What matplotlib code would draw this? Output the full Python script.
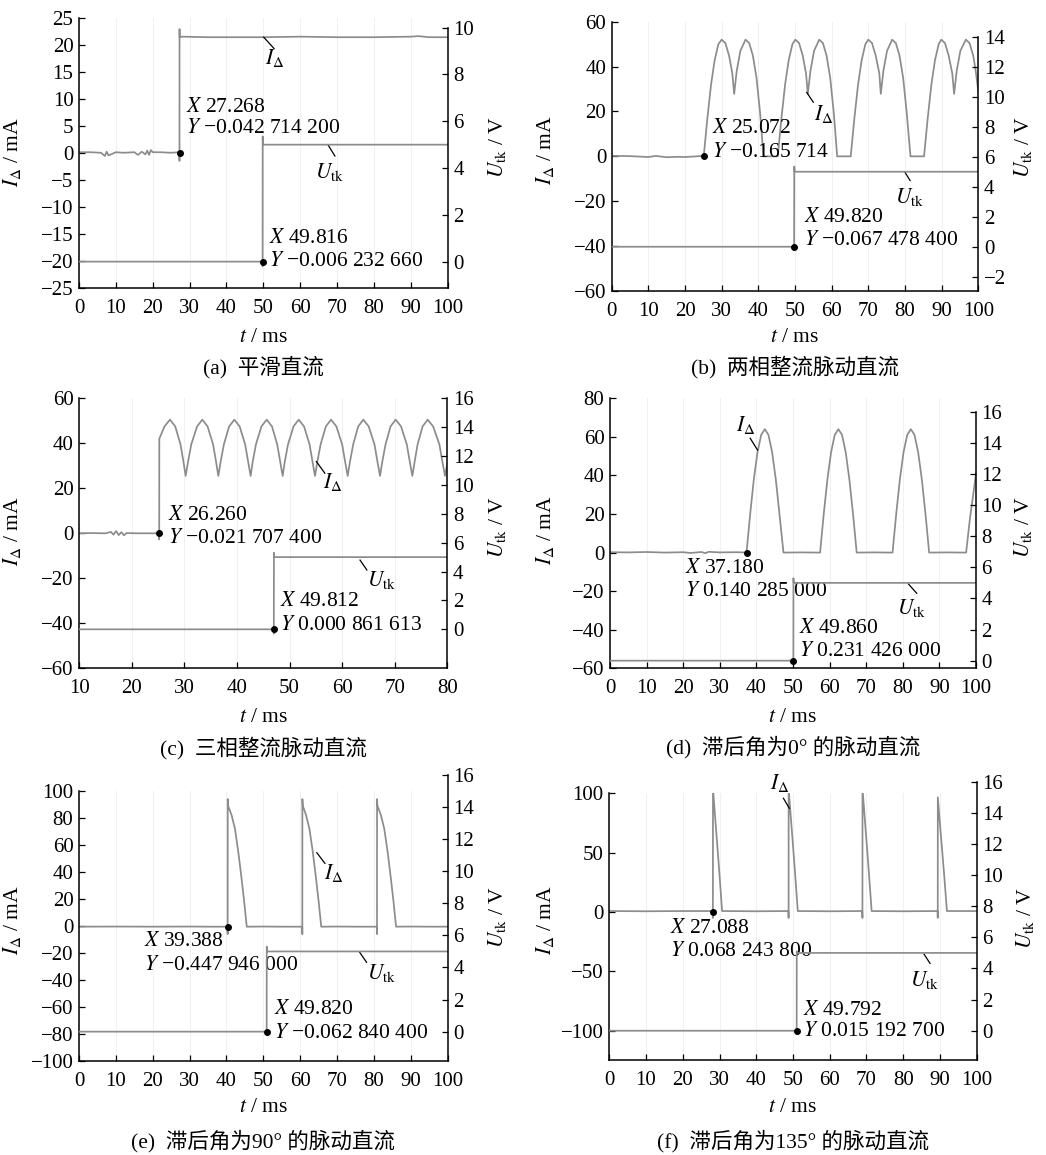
import matplotlib
matplotlib.use('Agg')
import matplotlib.pyplot as plt

plt.rcParams['font.family'] = ['Liberation Serif', 'Noto Sans CJK SC', 'DejaVu Sans']
plt.rcParams['mathtext.fontset'] = 'stix'
plt.rcParams['axes.unicode_minus'] = True

# ---------------- data ----------------
# (a) smooth DC
a_t_I = [0, 3, 6, 7, 7.5, 8, 10, 12, 15, 16, 17, 18, 18.5, 19, 19.5, 20, 22, 25, 27.2, 27.25, 27.27,
         27.3, 28, 35, 50, 60, 70, 80, 90, 92, 95, 100]
a_I = [0.2, 0.2, 0.1, -0.5, 0.3, -0.4, 0.2, 0.1, 0.2, -0.3, 0.3, -0.2, 0.5, -0.3, 0.6, 0.2, 0.2, 0.1,
       0.2, -1.4, 23.0, 21.5, 21.6, 21.5, 21.5, 21.6, 21.5, 21.5, 21.6, 21.7, 21.5, 21.5]
a_t_U = [0, 20, 40, 49.78, 49.8, 49.82, 49.9, 60, 80, 100]
a_U = [0, 0, 0, 0, -0.2, 5.35, 5.0, 5.0, 5.0, 5.0]

# (b) two-phase rectified pulsating DC
b_t_I = [0, 5, 10, 12, 15, 18, 20, 24,
         25.1, 26.1, 27.1, 28.1, 29.1, 30.0, 31.0, 32.0, 32.9, 33.4, 34.1, 35.1, 36.5, 37.5, 38.5, 39.5, 40.5, 41.4,
         45.3, 46.3, 47.3, 48.3, 49.3, 50.1, 51.1, 52.1, 53.0, 53.5, 54.2, 55.2, 56.6, 57.6, 58.6, 59.6, 60.6, 61.5,
         65.2, 66.2, 67.2, 68.2, 69.2, 70.0, 71.0, 72.0, 73.0, 73.4, 74.1, 75.1, 76.5, 77.5, 78.5, 79.5, 80.5, 81.5,
         85.2, 86.2, 87.2, 88.2, 89.2, 89.9, 90.9, 91.9, 92.9, 93.4, 94.1, 95.1, 96.6, 97.6, 98.6, 99.3, 100]
b_I = [0.2, 0.1, -0.3, 0.2, -0.4, -0.2, -0.3, 0.1,
       0, 17, 32, 43, 50, 52, 50.5, 45, 37, 27.8, 38, 47, 52, 50.5, 45, 35, 19, 0,
       0, 17, 32, 43, 50, 52, 50.5, 45, 37, 27.8, 38, 47, 52, 50.5, 45, 35, 19, 0,
       0, 17, 32, 43, 50, 52, 50.5, 45, 37, 27.8, 38, 47, 52, 50.5, 45, 35, 19, 0,
       0, 17, 32, 43, 50, 52, 50.5, 45, 37, 27.8, 38, 47, 52, 50.5, 45, 38, 29]
b_t_U = [0, 20, 40, 49.7, 49.75, 49.8, 49.9, 60, 80, 100]
b_U = [0, 0, 0, 0, -0.1, 5.35, 5.0, 5.0, 5.0, 5.0]

# (c) three-phase rectified pulsating DC
c_t_I = [10, 12, 15, 16, 16.5, 17, 17.5, 18, 18.5, 19, 21, 24, 25.1, 25.2, 25.22,
         26.2, 27.25, 28.25, 29.25, 29.8, 30.23,
         30.7, 31.3, 32.4, 33.4, 34.4, 35.45, 36.0, 36.44,
         36.9, 37.5, 38.5, 39.49, 40.5, 41.55, 42.1, 42.59,
         43.0, 43.6, 44.65, 45.64, 46.65, 47.65, 48.2, 48.68,
         49.1, 49.7, 50.75, 51.73, 52.75, 53.8, 54.35, 54.83,
         55.3, 55.9, 56.9, 57.88, 58.9, 60.0, 60.55, 61.05,
         61.5, 62.1, 63.05, 64.03, 65.05, 66.15, 66.7, 67.20,
         67.65, 68.25, 69.2, 70.18, 71.2, 72.3, 72.85, 73.35,
         73.8, 74.35, 75.3, 76.27, 77.3, 78.5, 79.05, 79.56,
         80.0]
c_I = [0, 0.1, 0, 0.6, -0.6, 1.0, -0.8, 0.5, -0.9, 0.1, 0, 0, 0, -2.7, 42,
       47.5, 50.5, 47.5, 39.5, 32, 25.5,
       32, 39.5, 47.5, 50.5, 47.5, 39.5, 32, 25.5,
       32, 39.5, 47.5, 50.5, 47.5, 39.5, 32, 25.5,
       32, 39.5, 47.5, 50.5, 47.5, 39.5, 32, 25.5,
       32, 39.5, 47.5, 50.5, 47.5, 39.5, 32, 25.5,
       32, 39.5, 47.5, 50.5, 47.5, 39.5, 32, 25.5,
       32, 39.5, 47.5, 50.5, 47.5, 39.5, 32, 25.5,
       32, 39.5, 47.5, 50.5, 47.5, 39.5, 32, 25.5,
       32, 39.5, 47.5, 50.5, 47.5, 39.5, 32, 25.5,
       31]
c_t_U = [10, 30, 46.95, 47.0, 47.02, 47.1, 60, 80]
c_U = [0, 0, 0, -0.3, 5.3, 5.0, 5.0, 5.0]

# (d) pulsating DC, lag angle 0 deg
d_t_I = [0, 5, 10, 15, 20, 22, 25, 26, 27, 30, 35, 37.3,
         38.3, 39.3, 40.3, 41.3, 42.3, 43.3, 44.3, 45.3, 46.3, 47.4, 52,
         57.4, 58.4, 59.4, 60.4, 61.4, 62.4, 63.4, 64.4, 65.4, 66.4, 67.4, 72,
         77.2, 78.2, 79.2, 80.2, 81.2, 82.2, 83.2, 84.2, 85.2, 86.2, 87.2, 92,
         97.3, 98.3, 99.3, 100]
d_I = [0.2, 0.1, 0.3, 0.0, 0.2, -0.2, 0.3, -0.3, 0.4, 0.1, 0.2, 0,
       20, 38, 52, 61, 64, 61, 52, 38, 20, 0, 0.1,
       0, 20, 38, 52, 61, 64, 61, 52, 38, 20, 0, 0.1,
       0, 20, 38, 52, 61, 64, 61, 52, 38, 20, 0, 0.1,
       0, 17, 31, 41]
d_t_U = [0, 25, 50.05, 50.1, 50.12, 50.2, 70, 100]
d_U = [0, 0, 0, -0.1, 5.3, 5.0, 5.0, 5.0]

# (e) pulsating DC, lag angle 90 deg
e_t_I = [0, 10, 20, 30, 35,
         40.3, 40.32, 40.34, 40.45, 41.4, 42.3, 43.2, 44.1, 44.8, 45.5, 50, 55,
         60.55, 60.57, 60.59, 60.7, 61.6, 62.5, 63.4, 64.3, 65.0, 65.7, 70, 75,
         80.8, 80.82, 80.84, 80.95, 81.9, 82.8, 83.7, 84.6, 85.3, 86.0, 90, 95, 100]
e_I = [-0.5, -0.4, -0.5, -0.4, -0.5,
       -0.5, -6, 94, 89, 82, 72, 55, 35, 18, -0.5, -0.4, -0.5,
       -0.5, -6, 94, 89, 82, 72, 55, 35, 18, -0.5, -0.4, -0.5,
       -0.5, -6, 94, 89, 82, 72, 55, 35, 18, -0.5, -0.4, -0.5, -0.5]
e_t_U = [0, 25, 50.85, 50.9, 50.92, 51.0, 75, 100]
e_U = [0, 0, 0, -0.2, 5.3, 5.0, 5.0, 5.0]

# (f) pulsating DC, lag angle 135 deg
f_t_I = [0, 10, 20, 28.15, 28.2, 28.22, 28.8, 29.45, 30.1, 30.7, 40,
         48.75, 48.8, 48.82, 49.4, 50.05, 50.7, 51.3, 60,
         68.85, 68.9, 68.92, 69.5, 70.15, 70.8, 71.4, 80,
         89.35, 89.4, 89.42, 90.0, 90.65, 91.3, 91.9, 100]
f_I = [0.8, 0.6, 0.8, 0.8, -5, 104, 80, 54, 27, 0.8, 0.6,
       0.8, -5, 104, 80, 54, 27, 0.8, 0.6,
       0.8, -5, 104, 80, 54, 27, 0.8, 0.6,
       0.8, -5, 96.5, 74, 50, 25, 0.8, 0.8]
f_t_U = [0, 25, 50.95, 51.0, 51.02, 51.1, 75, 100]
f_U = [0, 0, 0, -0.2, 5.1, 5.0, 5.0, 5.0]

captions = ['(a)  平滑直流', '(b)  两相整流脉动直流', '(c)  三相整流脉动直流',
            '(d)  滞后角为0° 的脉动直流', '(e)  滞后角为90° 的脉动直流', '(f)  滞后角为135° 的脉动直流']
cursor_I_x = ['27.268', '25.072', '26.260', '37.180', '39.388', '27.088']
cursor_I_y = ['−0.042 714 200', '−0.165 714', '−0.021 707 400', '0.140 285 000', '−0.447 946 000', '0.068 243 800']
cursor_U_x = ['49.816', '49.820', '49.812', '49.860', '49.820', '49.792']
cursor_U_y = ['−0.006 232 660', '−0.067 478 400', '0.000 861 613', '0.231 426 000', '−0.062 840 400', '0.015 192 700']

# ---------------- layout (pixels) ----------------
W, H = 1046, 1155
fig = plt.figure(figsize=(W / 100, H / 100), dpi=100)

layout = [
    dict(l=79, r=447.7, top=18.3, rtop=27.7, bot=288.3, ylim=(-25, 25), yt=range(-25, 26, 5),
         rylim=(-1.14, 10), ryt=range(0, 11, 2), xlim=(0, 100), xt=range(0, 101, 10),
         xl_y=338, cap_y=367, lab_y=152, rlab_y=147, lx=12, rx=497),
    dict(l=611.7, r=978.3, top=21.7, rtop=36.7, bot=291, ylim=(-60, 60), yt=range(-60, 61, 20),
         rylim=(-2.95, 14), ryt=range(-2, 15, 2), xlim=(0, 100), xt=range(0, 101, 10),
         xl_y=338, cap_y=367, lab_y=150, rlab_y=147, lx=545, rx=1023),
    dict(l=79.3, r=447.3, top=398.3, rtop=398.3, bot=668.3, ylim=(-60, 60), yt=range(-60, 61, 20),
         rylim=(-2.70, 16), ryt=range(0, 17, 2), xlim=(10, 80), xt=range(10, 81, 10),
         xl_y=717, cap_y=748, lab_y=531, rlab_y=527, lx=12, rx=497),
    dict(l=610, r=976, top=398.3, rtop=411.7, bot=668.3, ylim=(-60, 80), yt=range(-60, 81, 20),
         rylim=(-0.49, 16), ryt=range(0, 17, 2), xlim=(0, 100), xt=range(0, 101, 10),
         xl_y=718, cap_y=747, lab_y=530, rlab_y=527, lx=545, rx=1023),
    dict(l=79, r=447.7, top=791, rtop=775, bot=1061, ylim=(-100, 100), yt=range(-100, 101, 20),
         rylim=(-1.83, 16), ryt=range(0, 17, 2), xlim=(0, 100), xt=range(0, 101, 10),
         xl_y=1108, cap_y=1141, lab_y=920, rlab_y=917, lx=12, rx=497),
    dict(l=609.3, r=976.7, top=793.3, rtop=781.7, bot=1060, ylim=(-124.7, 100), yt=range(-100, 101, 50),
         rylim=(-1.88, 16), ryt=range(0, 17, 2), xlim=(0, 100), xt=range(0, 101, 10),
         xl_y=1108, cap_y=1141, lab_y=920, rlab_y=918, lx=545, rx=1025),
]

# annotation positions (left-axis data coords)
ann = [
    dict(cx=29.0, cy1=8.5, cy2=4.6, ux=51.6, uy1=-15.7, uy2=-20.1, mI=(27.27, 0), mU=(49.8, 0),
         iL=(53.2, 17.6), iA=(50.1, 21.5), iB=(52.9, 19.4), uL=(68.1, -3.4), uA=(67.6, 1.5), uB=(69.4, -0.5)),
    dict(cx=27.3, cy1=12.2, cy2=1.8, ux=52.5, uy1=-27.2, uy2=-37.3, mI=(25.1, 0), mU=(49.75, 0),
         iL=(57.7, 18.9), iA=(53.2, 28.5), iB=(55.0, 24.1), uL=(81.4, -18.3), uA=(80.0, -7.1), uB=(81.4, -10.8)),
    dict(cx=26.9, cy1=8.1, cy2=-2.2, ux=48.2, uy1=-30.4, uy2=-41.0, mI=(25.2, 0), mU=(47.0, 0),
         iL=(58.3, 23.0), iA=(55.1, 31.9), iB=(56.7, 26.7), uL=(67.5, -20.7), uA=(63.4, -11.9), uB=(64.7, -16.3)),
    dict(cx=20.5, cy1=-8.1, cy2=-20.2, ux=51.7, uy1=-39.2, uy2=-51.3, mI=(37.3, 0), mU=(50.1, 0),
         iL=(37.2, 66.2), iA=(38.3, 59.3), iB=(40.3, 53.2), uL=(82.4, -28.9), uA=(81.5, -16.2), uB=(83.8, -21.1)),
    dict(cx=17.6, cy1=-11.6, cy2=-28.9, ux=52.9, uy1=-62.2, uy2=-79.5, mI=(40.3, -1), mU=(50.9, 0),
         iL=(69.0, 39.0), iA=(64.5, 54.3), iB=(66.7, 46.4), uL=(82.1, -35.1), uA=(76.0, -19.0), uB=(78.0, -26.9)),
    dict(cx=16.5, cy1=-13.8, cy2=-33.4, ux=52.8, uy1=-82.6, uy2=-100.8, mI=(28.2, 0), mU=(51.0, 0),
         iL=(46.5, 108.4), iA=(47.4, 95.8), iB=(49.0, 87.4), uL=(85.9, -57.3), uA=(85.7, -35.7), uB=(87.3, -43.3)),
]

series = [(a_t_I, a_I, a_t_U, a_U), (b_t_I, b_I, b_t_U, b_U), (c_t_I, c_I, c_t_U, c_U),
          (d_t_I, d_I, d_t_U, d_U), (e_t_I, e_I, e_t_U, e_U), (f_t_I, f_I, f_t_U, f_U)]

LINE = '#8c8c8c'
FS_TICK = 15
FS = 15.5


def fx(px):
    return px / W


def fy(py):
    return 1 - py / H


for k, (L, A, S) in enumerate(zip(layout, ann, series)):
    tI, vI, tU, vU = S
    ax = fig.add_axes([fx(L['l']), fy(L['bot']), (L['r'] - L['l']) / W, (L['bot'] - L['top']) / H])
    ax2 = fig.add_axes([fx(L['l']), fy(L['bot']), (L['r'] - L['l']) / W, (L['bot'] - L['rtop']) / H])

    ax.set_xlim(*L['xlim'])
    ax.set_ylim(*L['ylim'])
    ax2.set_xlim(*L['xlim'])
    ax2.set_ylim(*L['rylim'])

    for s in ['top', 'right']:
        ax.spines[s].set_visible(False)
    for s in ['top', 'left', 'bottom']:
        ax2.spines[s].set_visible(False)
    for sp in ax.spines.values():
        sp.set_linewidth(1.1)
    ax2.spines['right'].set_linewidth(1.1)
    ax2.patch.set_visible(False)

    ax.set_xticks(list(L['xt']))
    ax.set_yticks(list(L['yt']))
    ax.tick_params(direction='in', length=4, width=0.9, labelsize=FS_TICK, pad=4)
    ax.tick_params(axis='x', pad=8)
    ax2.set_xticks([])
    ax2.yaxis.tick_right()
    ax2.set_yticks(list(L['ryt']))
    ax2.tick_params(direction='in', length=4, width=0.9, labelsize=FS_TICK, pad=4)

    for xv in L['xt']:
        ax.axvline(xv, color='#f1f1f1', lw=0.8, zorder=0)

    ax.plot(tI, vI, color=LINE, lw=1.25, zorder=2)
    ax2.plot(tU, vU, color=LINE, lw=1.25, zorder=2)

    ax.plot(*A['mI'], 'o', color='black', ms=4, zorder=5)
    ax2.plot(*A['mU'], 'o', color='black', ms=4, zorder=5)

    ax.text(A['cx'], A['cy1'], r'$X$ ' + cursor_I_x[k], fontsize=FS, ha='left', va='center')
    ax.text(A['cx'], A['cy2'], r'$Y$ ' + cursor_I_y[k], fontsize=FS, ha='left', va='center')
    ax.text(A['ux'], A['uy1'], r'$X$ ' + cursor_U_x[k], fontsize=FS, ha='left', va='center')
    ax.text(A['ux'], A['uy2'], r'$Y$ ' + cursor_U_y[k], fontsize=FS, ha='left', va='center')

    ax.text(*A['iL'], r'$I_{\Delta}$', fontsize=FS, ha='center', va='center')
    ax.text(*A['uL'], r'$U_{\mathrm{tk}}$', fontsize=FS, ha='center', va='center')
    ax.plot([A['iA'][0], A['iB'][0]], [A['iA'][1], A['iB'][1]], color='black', lw=0.9, clip_on=False, zorder=4)
    ax.plot([A['uA'][0], A['uB'][0]], [A['uA'][1], A['uB'][1]], color='black', lw=0.9, clip_on=False, zorder=4)

    cxp = (L['l'] + L['r']) / 2
    fig.text(fx(cxp), fy(L['xl_y']), r'$t$ / ms', fontsize=FS, ha='center', va='center')
    fig.text(fx(cxp), fy(L['cap_y']), captions[k], fontsize=FS, ha='center', va='center')
    fig.text(fx(L['lx']), fy(L['lab_y']), r'$I_{\Delta}$ / mA', fontsize=FS, ha='center', va='center',
             rotation=90)
    fig.text(fx(L['rx']), fy(L['rlab_y']), r'$U_{\mathrm{tk}}$ / V', fontsize=FS, ha='center', va='center',
             rotation=90)

fig.savefig('out.png', dpi=100)
